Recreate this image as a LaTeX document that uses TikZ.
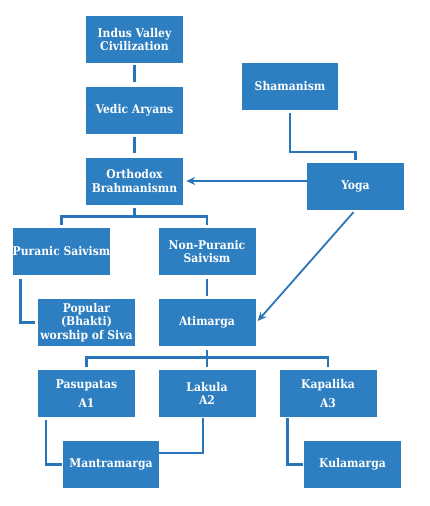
\documentclass[tikz,border=0pt]{standalone}
\usepackage{fontspec}
\setmainfont{DejaVu Serif Condensed}
\usetikzlibrary{arrows.meta}
\definecolor{boxblue}{RGB}{46,127,193}
\definecolor{lineblue}{RGB}{40,117,186}
\tikzset{
  box/.style={draw=none, fill=boxblue, text=white, font=\fontsize{12}{13.8}\selectfont\bfseries,
    minimum width=97pt, minimum height=47pt, inner sep=0pt, align=center},
  conn/.style={draw=lineblue, line width=2.6pt},
  arr/.style={draw=lineblue, line width=1.8pt, -{Stealth[length=9pt,width=8pt]}}
}
\begin{document}
\begin{tikzpicture}[x=1pt,y=-1pt]
\useasboundingbox (0,0) rectangle (430,506);
\node[box] (indus) at (134.5,39.5) {Indus Valley\\Civilization};
\node[box] (vedic) at (134.5,110) {Vedic Aryans};
\node[box] (ortho) at (134.5,181) {Orthodox\\Brahmanismn};
\node[box, minimum width=96pt] (sham) at (290,86.5) {Shamanism};
\node[box] (yoga) at (355.5,186.5) {Yoga};
\node[box] (puranic) at (61.5,251.5) {Puranic Saivism};
\node[box] (nonpur) at (207,251.5) {Non-Puranic\\Saivism};
\node[box] (popular) at (86.5,322.5) {Popular\\(Bhakti)\\worship of Siva};
\node[box] (atim) at (207,322.5) {Atimarga};
\node[box] (pasu) at (86.5,393.5) {Pasupatas\\[5pt]A1};
\node[box] (lakula) at (207,393.5) {Lakula\\A2};
\node[box] (kapa) at (328,393.5) {Kapalika\\[5pt]A3};
\node[box, minimum width=96pt] (mantra) at (111,464.5) {Mantramarga};
\node[box] (kula) at (352.5,464.5) {Kulamarga};
% connectors
\draw[conn] ([yshift=-2pt]indus.south) -- ([yshift=4pt]vedic.north);
\draw[conn] ([yshift=-3pt]vedic.south) -- ([yshift=4pt]ortho.north);
\draw[conn] ([yshift=-3pt]ortho.south) -- ([yshift=-12pt]ortho.south);
\draw[conn] ([yshift=3pt]puranic.north) |- ([yshift=-12pt]ortho.south) -| ([yshift=3pt]nonpur.north);
\draw[conn] ([yshift=-3pt]sham.south) |- ([yshift=11pt]yoga.north) -- ([yshift=3pt]yoga.north);
\draw[arr] (yoga.west |- ortho.east) -- ([xshift=3pt]ortho.east);
\draw[arr] ([xshift=-2pt,yshift=-2pt]yoga.south) -- ([xshift=2pt,yshift=1.5pt]atim.east);
\draw[conn] ([xshift=8pt,yshift=-4pt]puranic.south west) |- ([xshift=-3pt]popular.west);
\draw[conn] ([yshift=-4pt]nonpur.south) -- ([yshift=3pt]atim.north);
\draw[conn] ([yshift=-4pt]atim.south) -- ([yshift=-11pt]atim.south);
\draw[conn] ([yshift=3pt]pasu.north) |- ([yshift=-11pt]atim.south) -| ([yshift=3pt]kapa.north);
\draw[conn] ([yshift=-11pt]atim.south) -- ([yshift=3pt]lakula.north);
\draw[conn] ([xshift=8pt,yshift=-3pt]pasu.south west) |- ([xshift=-1pt]mantra.west);
\draw[conn] ([xshift=-4pt,yshift=-1pt]lakula.south) |- ([yshift=11.5pt]mantra.east);
\draw[conn] ([xshift=8pt,yshift=-1pt]kapa.south west) |- ([xshift=-1pt]kula.west);
\end{tikzpicture}
\end{document}
